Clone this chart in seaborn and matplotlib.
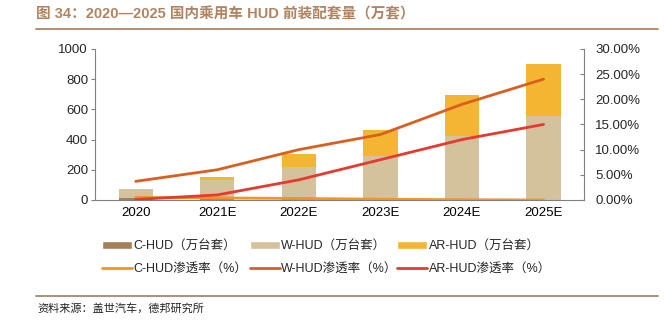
import numpy as np
import pandas as pd
import matplotlib
matplotlib.use("Agg")
import matplotlib.pyplot as plt
import seaborn as sns
from matplotlib.patches import Patch
from matplotlib.lines import Line2D
from matplotlib.ticker import PercentFormatter

sns.set_theme(style="white")
plt.rcParams["font.family"] = ["Liberation Sans", "Noto Sans CJK SC", "DejaVu Sans"]

years = ["2020", "2021E", "2022E", "2023E", "2024E", "2025E"]
c_hud = [10, 5, 5, 3, 2, 2]          # 万台套
w_hud = [65, 128, 215, 288, 423, 555]
ar_hud = [0, 20, 85, 175, 270, 345]
c_rate = [0.5, 0.4, 0.3, 0.15, 0.05, 0.0]   # %
w_rate = [3.7, 6.0, 10.0, 13.0, 19.0, 24.0]
ar_rate = [0.1, 1.0, 4.0, 8.0, 12.0, 15.0]

col_c, col_w, col_ar = "#A57F56", "#D4C29C", "#F4B533"
line_c, line_w, line_ar = "#F7931E", "#D95F1F", "#E8392E"
title_col = "#B08462"

df = pd.DataFrame({"year": years, "c": c_hud, "w": w_hud, "ar": ar_hud})
df["cw"] = df["c"] + df["w"]
df["total"] = df["cw"] + df["ar"]

fig = plt.figure(figsize=(6.64, 3.22), dpi=100)
ax = fig.add_axes([0.143, 0.379, 0.737, 0.469])

# stacked bars drawn as overlapping cumulative totals
sns.barplot(data=df, x="year", y="total", color=col_ar, width=0.42, linewidth=0, saturation=1, ax=ax)
sns.barplot(data=df, x="year", y="cw", color=col_w, width=0.42, linewidth=0, saturation=1, ax=ax)
sns.barplot(data=df, x="year", y="c", color=col_c, width=0.42, linewidth=0, saturation=1, ax=ax)

ax.set_xlim(-0.5, 5.5)
ax.set_ylim(0, 1000)
ax.set_yticks(range(0, 1001, 200))
ax.set_xlabel("")
ax.set_ylabel("")

ax2 = ax.twinx()
xs = np.arange(len(years))
rates = pd.DataFrame({"x": np.tile(xs, 3),
                      "rate": c_rate + w_rate + ar_rate,
                      "kind": ["C"] * 6 + ["W"] * 6 + ["AR"] * 6})
sns.lineplot(data=rates, x="x", y="rate", hue="kind",
             palette={"C": line_c, "W": line_w, "AR": line_ar},
             linewidth=2, legend=False, ax=ax2)
ax2.set_ylim(0, 30)
ax2.set_yticks(range(0, 31, 5))
ax2.yaxis.set_major_formatter(PercentFormatter(decimals=2))
ax2.set_xlim(-0.5, 5.5)
ax2.set_xlabel("")
ax2.set_ylabel("")

spine_col = "#808080"
for a in (ax, ax2):
    a.spines["top"].set_visible(False)
    for s in ("left", "right", "bottom"):
        a.spines[s].set_color(spine_col)
        a.spines[s].set_linewidth(0.8)
ax.spines["right"].set_visible(False)
ax2.spines["left"].set_visible(False)
ax2.spines["bottom"].set_visible(False)

ax.set_xticks(xs)
ax.set_xticklabels(years)
ax.set_xticks(np.arange(-0.5, 6, 1), minor=True)
ax.tick_params(axis="x", which="major", length=0, labelsize=9.5, pad=5, colors="black")
ax.tick_params(axis="x", which="minor", direction="in", length=3, color=spine_col, width=0.8)
ax.tick_params(axis="y", direction="out", length=3, color=spine_col, width=0.8, labelsize=9.5, pad=2)
ax2.tick_params(axis="y", direction="in", length=3, color=spine_col, width=0.8, labelsize=9.5, pad=8)

# title and rules
fig.text(0.054, 0.955, "图 34：2020—2025 国内乘用车 HUD 前装配套量（万套）",
         fontsize=10.5, fontweight="bold", color=title_col, va="center",
         family=["Liberation Sans", "Noto Sans CJK SC"])
fig.add_artist(Line2D([0.054, 0.991], [0.909, 0.909], color=title_col, linewidth=1.3))
fig.add_artist(Line2D([0.054, 0.991], [0.080, 0.080], color=title_col, linewidth=1.3))
fig.text(0.056, 0.043, "资料来源：盖世汽车，德邦研究所", fontsize=8, va="center",
         family=["Noto Sans CJK SC"], color="#222222")

# legend: one column per HUD type (volume patch above, penetration line below)
legend_cols = [
    (0.1536, col_c, line_c, "C-HUD"),
    (0.3765, col_w, line_w, "W-HUD"),
    (0.5985, col_ar, line_ar, "AR-HUD"),
]
for xpos, pc, lc, name in legend_cols:
    hs = [Patch(facecolor=pc, label=f"{name}（万台套）"),
          Line2D([], [], color=lc, linewidth=2, label=f"{name}渗透率（%）")]
    fig.legend(handles=hs, ncol=1, loc="center left", bbox_to_anchor=(xpos, 0.200),
               frameon=False, handlelength=2.4, handleheight=0.7,
               handletextpad=0.1, labelspacing=0.85, borderpad=0, borderaxespad=0,
               prop={"family": ["Liberation Sans", "Noto Sans CJK SC"], "size": 9})

fig.savefig("out.png", dpi=100)
